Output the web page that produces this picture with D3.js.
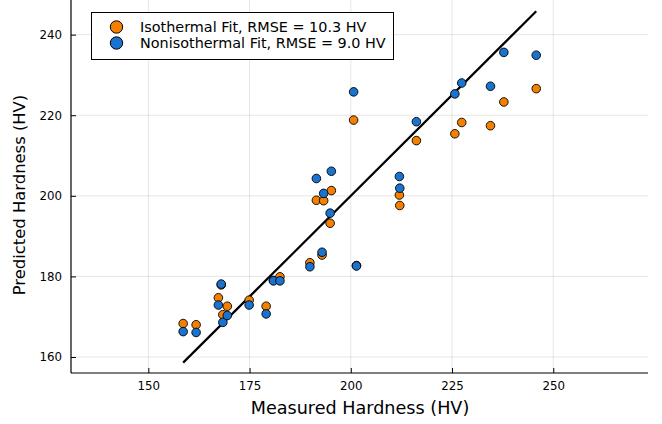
<!DOCTYPE html>
<html>
<head>
<meta charset="utf-8">
<script src="https://cdn.jsdelivr.net/npm/d3@7"></script>
<style>
  html, body { margin: 0; padding: 0; background: #fff; }
  svg { display: block; font-family: "DejaVu Sans", sans-serif; }
</style>
</head>
<body>
<svg id="chart" width="662" height="424"></svg>
<script>
// Measured hardness (HV), one entry per sample
const measured = [158.6, 161.8, 167.3, 168.0, 168.4, 169.5, 174.9, 179.1, 180.9, 182.5,
                  189.9, 192.9, 201.4, 191.5, 193.3, 195.2, 194.9, 200.7, 212.0, 212.1,
                  216.2, 225.7, 227.4, 234.5, 237.8, 245.8];
// Predicted hardness, isothermal fit
const isothermal = [168.3, 168.0, 174.7, 177.9, 170.5, 172.6, 174.1, 172.6, 179.0, 179.9,
                    183.4, 185.3, 182.7, 198.9, 198.8, 201.3, 193.2, 218.8, 200.2, 197.6,
                    213.7, 215.4, 218.2, 217.4, 223.3, 226.6];
// Predicted hardness, nonisothermal fit
const nonisothermal = [166.3, 166.1, 172.9, 178.1, 168.6, 170.3, 172.9, 170.7, 178.9, 178.9,
                       182.4, 186.0, 182.6, 204.3, 200.6, 206.1, 195.7, 225.8, 204.8, 201.9,
                       218.4, 225.3, 228.0, 227.2, 235.6, 234.9];
const seriesNames = ["Isothermal Fit, RMSE = 10.3 HV", "Nonisothermal Fit, RMSE = 9.0 HV"];
const xTicks = [150, 175, 200, 225, 250];
const yTicks = [160, 180, 200, 220, 240];

const colors = ["#F58000", "#1A74CF"];
const svg = d3.select("#chart");
const L = 71, R = 648, T = 0, B = 373;

const x = d3.scaleLinear().domain([130.9, 273.4]).range([L, R]);
const y = d3.scaleLinear().domain([156.03, 248.6]).range([B, T]);

// grid
const g = svg.append("g");
g.selectAll(".gx").data(xTicks).enter().append("line")
  .attr("x1", d => x(d)).attr("x2", d => x(d)).attr("y1", T).attr("y2", B)
  .attr("stroke", "#000").attr("stroke-opacity", 0.1).attr("stroke-width", 1);
g.selectAll(".gy").data(yTicks).enter().append("line")
  .attr("y1", d => y(d)).attr("y2", d => y(d)).attr("x1", L).attr("x2", R)
  .attr("stroke", "#000").attr("stroke-opacity", 0.1).attr("stroke-width", 1);

// axes
const xAxis = d3.axisBottom(x).tickValues(xTicks).tickSizeInner(-5).tickSizeOuter(0).tickPadding(9);
const yAxis = d3.axisLeft(y).tickValues(yTicks).tickSizeInner(-5).tickSizeOuter(0).tickPadding(9);
const gx = svg.append("g").attr("transform", `translate(0,${B})`).call(xAxis);
const gy = svg.append("g").attr("transform", `translate(${L},0)`).call(yAxis);
[gx, gy].forEach(a => {
  a.select(".domain").attr("stroke", "#000").attr("stroke-width", 1.2);
  a.selectAll(".tick line").attr("stroke", "#000").attr("stroke-width", 1);
  a.selectAll(".tick text").attr("font-size", 11.8).attr("fill", "#000")
    .attr("font-family", "DejaVu Sans, sans-serif");
});
gy.select(".domain").attr("d", `M0,${T}V${B}`);
gx.select(".domain").attr("d", `M${L},0H${R}`);

// identity line
const lo = d3.min(measured), hi = d3.max(measured);
svg.append("line")
  .attr("x1", x(lo)).attr("y1", y(lo)).attr("x2", x(hi)).attr("y2", y(hi))
  .attr("stroke", "#000").attr("stroke-width", 2.2);

// points
const series = [isothermal, nonisothermal];
series.forEach((vals, i) => {
  svg.append("g").selectAll("circle").data(vals).enter().append("circle")
    .attr("cx", (d, j) => x(measured[j])).attr("cy", d => y(d)).attr("r", 4.3)
    .attr("fill", colors[i]).attr("stroke", "#000").attr("stroke-width", 0.9);
});

// axis labels
svg.append("text").attr("x", 360).attr("y", 414).attr("text-anchor", "middle")
  .attr("font-size", 17.6).text("Measured Hardness (HV)");
svg.append("text").attr("transform", `translate(25,195) rotate(-90)`)
  .attr("text-anchor", "middle").attr("font-size", 16.4).text("Predicted Hardness (HV)");

// legend
const lg = svg.append("g");
lg.append("rect").attr("x", 91.5).attr("y", 12.5).attr("width", 302).attr("height", 47)
  .attr("fill", "#fff").attr("stroke", "#000").attr("stroke-width", 1);
seriesNames.forEach((n, i) => {
  const yy = 27 + i * 16;
  lg.append("circle").attr("cx", 116.5).attr("cy", yy).attr("r", 6.2)
    .attr("fill", colors[i]).attr("stroke", "#000").attr("stroke-width", 1);
  lg.append("text").attr("x", 140).attr("y", yy + 5).attr("font-size", 14.4).text(n);
});
</script>
</body>
</html>
